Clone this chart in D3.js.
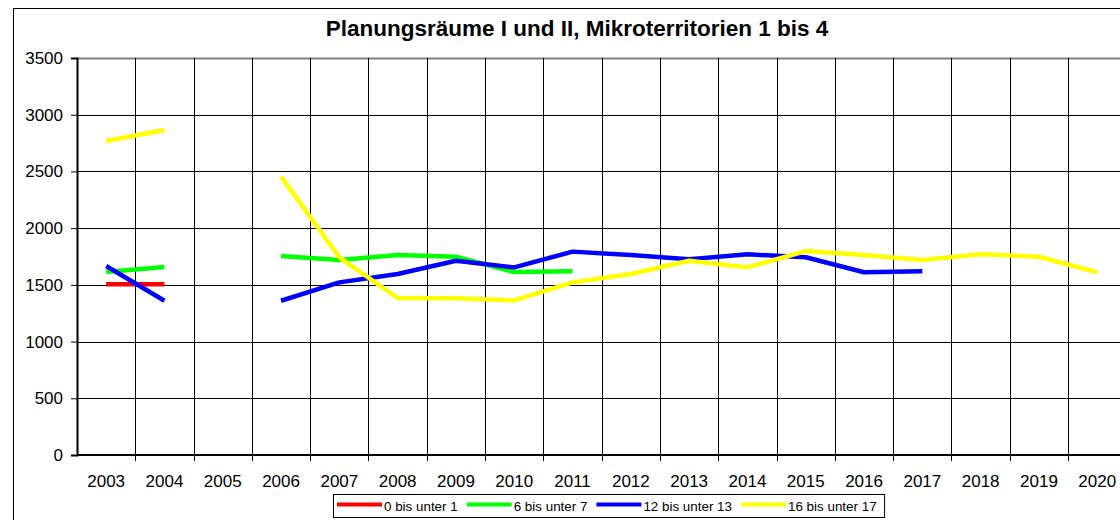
<!DOCTYPE html>
<html lang="de">

<head>
  <meta charset="utf-8">
  <script type="text/javascript" src="https://d3js.org/d3.v7.min.js"></script>
  <style>
    body { margin: 0; background: #fff; }
    svg { display: block; font-family: "Liberation Sans", Arial, sans-serif; }
  </style>
</head>

<body>
  <div class="chart"></div>
</body>

<script type="text/javascript">

  const years = ['2003', '2004', '2005', '2006', '2007', '2008', '2009', '2010', '2011',
    '2012', '2013', '2014', '2015', '2016', '2017', '2018', '2019', '2020'];

  const seriesNames = ['0 bis unter 1', '6 bis unter 7', '12 bis unter 13', '16 bis unter 17'];
  const seriesColors = ['#ff0000', '#00ff00', '#0000ff', '#ffff00'];

  const age0 = [1505, 1505, null, null, null, null, null, null, null,
    null, null, null, null, null, null, null, null, null];
  const age6 = [1613, 1657, null, 1754, 1719, 1763, 1748, 1613, 1619,
    null, null, null, null, null, null, null, null, null];
  const age12 = [1666, 1360, null, 1360, 1522, 1596, 1713, 1654, 1793,
    1763, 1725, 1769, 1743, 1611, 1619, null, null, null];
  const age16 = [2768, 2865, null, 2454, 1743, 1384, 1381, 1363, 1522,
    1596, 1713, 1654, 1798, 1763, 1719, 1769, 1748, 1611];

  const yTicks = [0, 500, 1000, 1500, 2000, 2500, 3000, 3500];

  const series = [age0, age6, age12, age16];

  const width = 1120;
  const height = 520;
  const plot = { left: 77, top: 58, bottom: 455, step: 58.3 };

  const svg = d3.select('.chart')
    .append('svg')
    .attr('width', width)
    .attr('height', height);

  // outer chart frame (runs past the window on the right and bottom)
  svg.append('rect')
    .attr('x', 13.5)
    .attr('y', 8.5)
    .attr('width', 1200)
    .attr('height', 600)
    .attr('fill', 'none')
    .attr('stroke', '#000')
    .attr('stroke-width', 1);

  svg.append('text')
    .attr('x', 577)
    .attr('y', 36)
    .attr('text-anchor', 'middle')
    .style('font-size', '22.5px')
    .style('font-weight', 'bold')
    .text('Planungsräume I und II, Mikroterritorien 1 bis 4');

  const xScale = d3.scaleBand()
    .domain(years)
    .range([plot.left, plot.left + plot.step * years.length]);

  const yScale = d3.scaleLinear()
    .domain([0, 3500])
    .range([plot.bottom, plot.top]);

  // horizontal gridlines
  svg.append('g')
    .selectAll('line')
    .data(yTicks)
    .join('line')
    .attr('x1', plot.left)
    .attr('x2', width + 20)
    .attr('y1', d => Math.round(yScale(d)) + 0.5)
    .attr('y2', d => Math.round(yScale(d)) + 0.5)
    .attr('stroke', d => d === 3500 ? '#808080' : '#000')
    .attr('stroke-width', d => d === 3500 ? 2 : 1);

  // vertical gridlines at category boundaries
  svg.append('g')
    .selectAll('line')
    .data(years.slice(1))
    .join('line')
    .attr('x1', d => Math.round(xScale(d)) + 0.5)
    .attr('x2', d => Math.round(xScale(d)) + 0.5)
    .attr('y1', plot.top)
    .attr('y2', plot.bottom + 6)
    .attr('stroke', '#000')
    .attr('stroke-width', 1);

  const yAxis = d3.axisLeft(yScale)
    .tickValues(yTicks)
    .tickSize(6)
    .tickPadding(8)
    .tickFormat(d3.format('d'));

  svg.append('g')
    .attr('class', 'y-axis')
    .attr('transform', `translate(${plot.left}, 0)`)
    .call(yAxis)
    .call(g => g.select('.domain').attr('stroke-width', 2))
    .call(g => g.selectAll('text').style('font-size', '17px').attr('fill', '#000'));

  // x axis line
  svg.append('line')
    .attr('x1', plot.left)
    .attr('x2', width + 20)
    .attr('y1', plot.bottom)
    .attr('y2', plot.bottom)
    .attr('stroke', '#000')
    .attr('stroke-width', 2);

  svg.append('g')
    .attr('class', 'x-labels')
    .selectAll('text')
    .data(years)
    .join('text')
    .attr('x', d => xScale(d) + xScale.bandwidth() / 2)
    .attr('y', 487)
    .attr('text-anchor', 'middle')
    .style('font-size', '17px')
    .text(d => d);

  const line = d3.line()
    .defined(d => d.value != null)
    .x(d => xScale(d.year) + xScale.bandwidth() / 2)
    .y(d => yScale(d.value));

  svg.append('g')
    .selectAll('path')
    .data(series)
    .join('path')
    .attr('d', s => line(s.map((v, i) => ({ year: years[i], value: v }))))
    .attr('fill', 'none')
    .attr('stroke', (s, i) => seriesColors[i])
    .attr('stroke-width', 4.5)
    .attr('stroke-linejoin', 'round');

  // legend
  const legend = svg.append('g').attr('class', 'legend');
  const legendBox = legend.append('rect')
    .attr('y', 494.5)
    .attr('height', 23)
    .attr('fill', '#fff')
    .attr('stroke', '#000')
    .attr('stroke-width', 1);

  let lx = 337;
  seriesNames.forEach((name, i) => {
    legend.append('line')
      .attr('x1', lx)
      .attr('x2', lx + 45)
      .attr('y1', 504.5)
      .attr('y2', 504.5)
      .attr('stroke', seriesColors[i])
      .attr('stroke-width', 4);
    const t = legend.append('text')
      .attr('x', lx + 47)
      .attr('y', 510.5)
      .style('font-size', '13.4px')
      .text(name);
    lx += 47 + t.node().getComputedTextLength() + 9;
  });
  legendBox
    .attr('x', 333.5)
    .attr('width', lx - 9 + 8 - 333.5);

</script>

</html>
